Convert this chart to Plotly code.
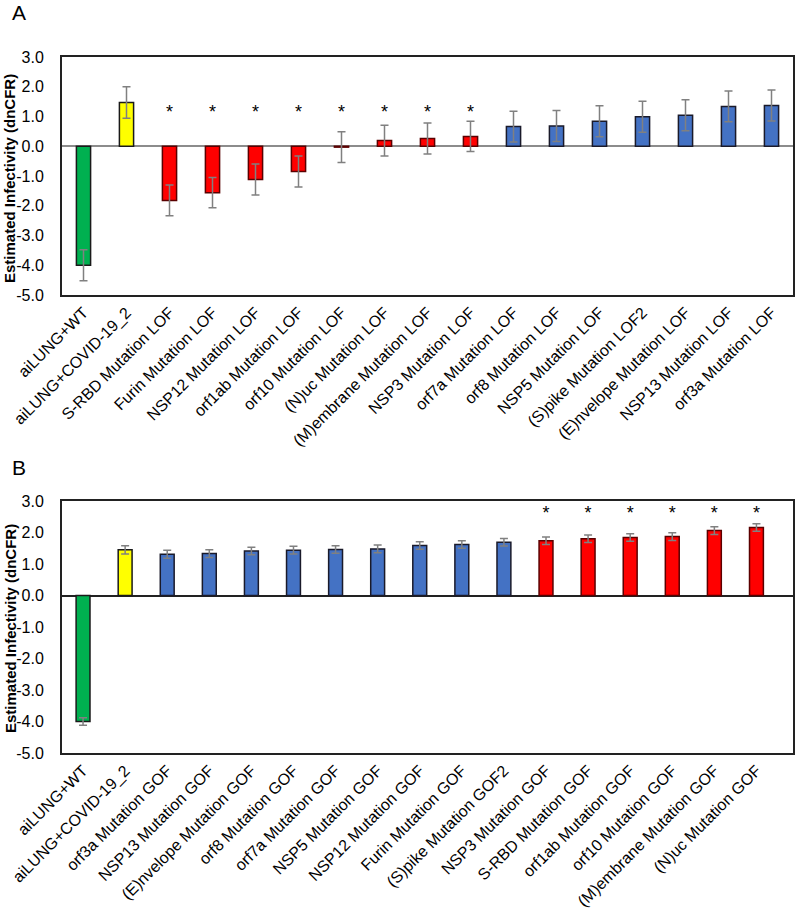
import plotly.graph_objects as go

# ---- Panel A data ----
cats_a = ["aiLUNG+WT", "aiLUNG+COVID-19_2", "S-RBD Mutation LOF", "Furin Mutation LOF",
          "NSP12 Mutation LOF", "orf1ab Mutation LOF", "orf10 Mutation LOF", "(N)uc Mutation LOF",
          "(M)embrane Mutation LOF", "NSP3 Mutation LOF", "orf7a Mutation LOF", "orf8 Mutation LOF",
          "NSP5 Mutation LOF", "(S)pike Mutation LOF2", "(E)nvelope Mutation LOF",
          "NSP13 Mutation LOF", "orf3a Mutation LOF"]
vals_a = [-4.00, 1.47, -1.82, -1.56, -1.12, -0.85, -0.03, 0.19, 0.26, 0.33, 0.66, 0.68,
          0.84, 0.99, 1.04, 1.34, 1.37]
err_a = [0.52, 0.53, 0.52, 0.51, 0.52, 0.52, 0.52, 0.52, 0.52, 0.51, 0.52, 0.52,
         0.52, 0.52, 0.52, 0.52, 0.52]
grp_a = ["ctrl_wt", "ctrl_cov", "sig", "sig", "sig", "sig", "sig", "sig", "sig", "sig",
         "ns", "ns", "ns", "ns", "ns", "ns", "ns"]
star_a = [False, False, True, True, True, True, True, True, True, True,
          False, False, False, False, False, False, False]
star_level_a = 1.1

# ---- Panel B data ----
cats_b = ["aiLUNG+WT", "aiLUNG+COVID-19_2", "orf3a Mutation GOF", "NSP13 Mutation GOF",
          "(E)nvelope Mutation GOF", "orf8 Mutation GOF", "orf7a Mutation GOF", "NSP5 Mutation GOF",
          "NSP12 Mutation GOF", "Furin Mutation GOF", "(S)pike Mutation GOF2", "NSP3 Mutation GOF",
          "S-RBD Mutation GOF", "orf1ab Mutation GOF", "orf10 Mutation GOF",
          "(M)embrane Mutation GOF", "(N)uc Mutation GOF"]
vals_b = [-4.00, 1.45, 1.31, 1.33, 1.41, 1.44, 1.46, 1.48, 1.59, 1.62, 1.69, 1.74,
          1.80, 1.84, 1.87, 2.06, 2.16]
err_b = [0.12, 0.13, 0.13, 0.12, 0.12, 0.12, 0.12, 0.12, 0.12, 0.12, 0.12, 0.12,
         0.12, 0.12, 0.12, 0.12, 0.12]
grp_b = ["ctrl_wt", "ctrl_cov", "ns", "ns", "ns", "ns", "ns", "ns", "ns", "ns", "ns",
         "sig", "sig", "sig", "sig", "sig", "sig"]
star_b = [False] * 11 + [True] * 6
star_level_b = 2.56

# ---- Y axis ticks ----
y_tick_vals = [3, 2, 1, 0, -1, -2, -3, -4, -5]
y_tick_text = ["3.0", "2.0", "1.0", "0.0", "-1.0", "-2.0", "-3.0", "-4.0", "-5.0"]

colors = {"ctrl_wt": "#00B050", "ctrl_cov": "#FFFF00", "sig": "#FF0000", "ns": "#4472C4"}
outline = {"ctrl_wt": "#1a1a1a", "ctrl_cov": "#1a1a1a", "sig": "#5a0000", "ns": "#1a1a2a"}

W, H = 796, 909
fig = go.Figure()

def add_panel(cats, vals, errs, grps, stars, star_level, xa, ya):
    fig.add_trace(go.Bar(
        x=cats, y=vals, xaxis=xa, yaxis=ya, width=0.33,
        marker=dict(color=[colors[g] for g in grps],
                    line=dict(color=[outline[g] for g in grps], width=1.5)),
        error_y=dict(type="data", array=errs, visible=True, color="#808080",
                     thickness=1.5, width=4),
        showlegend=False, hoverinfo="x+y"))
    sx = [c for c, s in zip(cats, stars) if s]
    fig.add_trace(go.Scatter(
        x=sx, y=[star_level] * len(sx), xaxis=xa, yaxis=ya, mode="text",
        text=["*"] * len(sx), textfont=dict(size=18, color="black", family="Arial"),
        showlegend=False, hoverinfo="skip"))

add_panel(cats_a, vals_a, err_a, grp_a, star_a, star_level_a, "x", "y")
add_panel(cats_b, vals_b, err_b, grp_b, star_b, star_level_b, "x2", "y2")

def px(x):
    return x / W

def py(y):
    return 1 - y / H

xdom = [px(62), px(793)]
ydom_a = [py(295), py(57)]
ydom_b = [py(753), py(501)]

xcommon = dict(domain=xdom, tickangle=-45, showline=True, mirror=True, linecolor="#222222",
               linewidth=2, ticks="", tickfont=dict(size=16, family="Arial", color="black"),
               automargin=False, showgrid=False)
ycommon = dict(range=[-5, 3], tickmode="array", tickvals=y_tick_vals, ticktext=y_tick_text,
               showline=True, mirror=True,
               linecolor="#222222", linewidth=2, ticks="", showgrid=False,
               ticklabelstandoff=13,
               tickfont=dict(size=16, family="Arial", color="black"), automargin=False)

title_text = "<b>Estimated Infectivity (dnCFR)</b>"

fig.update_layout(
    width=W, height=H, margin=dict(l=0, r=0, t=0, b=0),
    plot_bgcolor="white", paper_bgcolor="white",
    xaxis=dict(**xcommon, anchor="y"),
    yaxis=dict(**ycommon, domain=ydom_a, anchor="x", zeroline=True,
               zerolinecolor="#8c8c8c", zerolinewidth=1.5),
    xaxis2=dict(**xcommon, anchor="y2"),
    yaxis2=dict(**ycommon, domain=ydom_b, anchor="x2", zeroline=True,
                zerolinecolor="#222222", zerolinewidth=1.5),
    annotations=[
        dict(text="A", x=px(10), y=py(12), xref="paper", yref="paper", showarrow=False,
             xanchor="left", yanchor="middle", font=dict(size=21, family="Arial", color="black")),
        dict(text="B", x=px(10), y=py(467), xref="paper", yref="paper", showarrow=False,
             xanchor="left", yanchor="middle", font=dict(size=21, family="Arial", color="black")),
        dict(text=title_text, x=px(10), y=py(179),
             xref="paper", yref="paper", showarrow=False, textangle=-90,
             xanchor="center", yanchor="middle", font=dict(size=15, family="Arial", color="black")),
        dict(text=title_text, x=px(10), y=py(629),
             xref="paper", yref="paper", showarrow=False, textangle=-90,
             xanchor="center", yanchor="middle", font=dict(size=15, family="Arial", color="black")),
    ],
)

fig.write_html("out.html", config={"responsive": False, "displayModeBar": False},
               post_script="document.body.style.margin='0';document.body.style.overflow='hidden';")
